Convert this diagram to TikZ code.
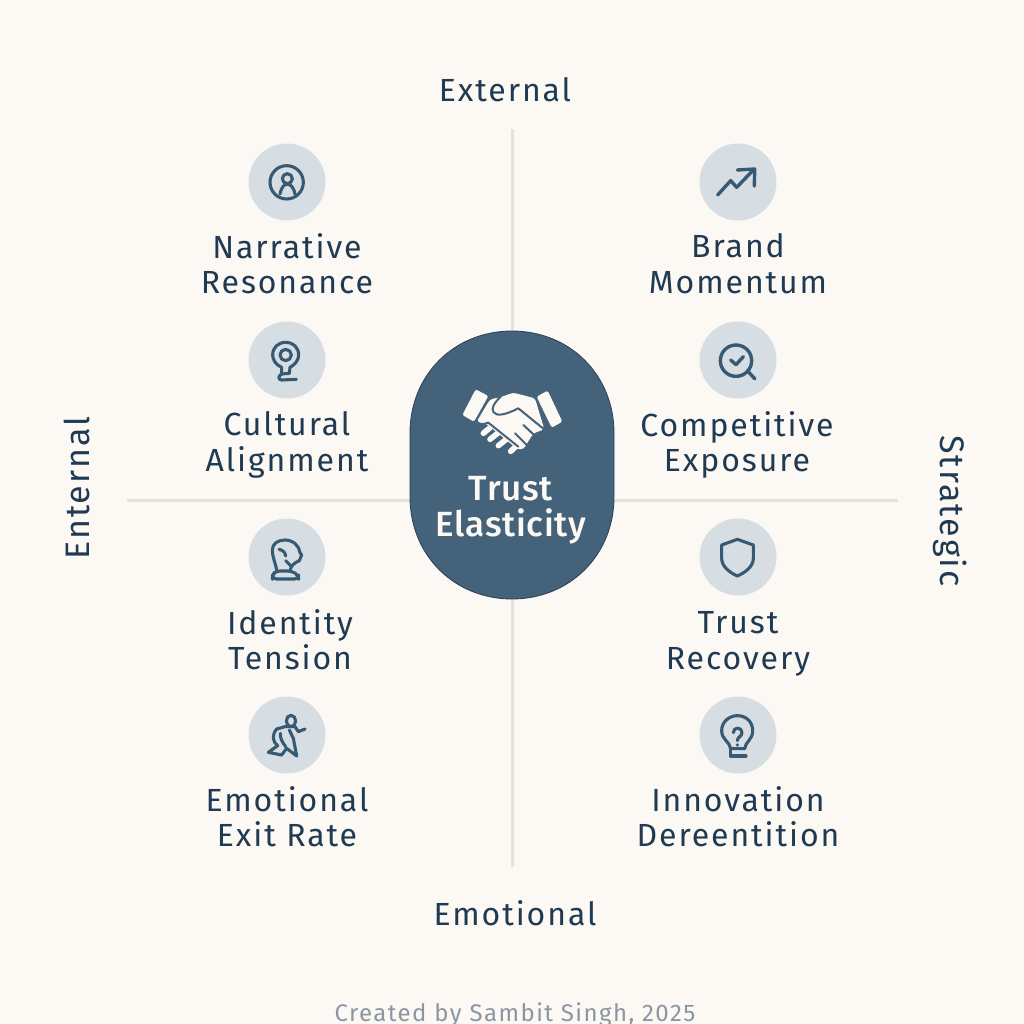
\documentclass[tikz,border=0pt]{standalone}
\usepackage{fontspec}
\setmainfont{Fira Sans}[LetterSpace=6]
\newfontfamily\pillfont{Fira Sans Medium}[LetterSpace=2]
\definecolor{paper}{HTML}{FCF9F4}
\definecolor{axisline}{HTML}{E5E2DA}
\definecolor{disc}{HTML}{D6DEE3}
\definecolor{ink}{HTML}{1F3A52}
\definecolor{iconink}{HTML}{375A74}
\definecolor{pill}{HTML}{44627A}
\definecolor{foot}{HTML}{8A97A3}
\newcommand{\twolines}[2]{#1\vphantom{lAy}\\#2\vphantom{lAy}}
\tikzset{
  axisrule/.style={draw=axisline,line width=3pt},
  iconbg/.style={circle,fill=disc,minimum size=77pt,inner sep=0pt},
  itemlabel/.style={text=ink,align=center,font=\fontsize{32}{35.5}\selectfont,inner sep=0pt},
  axislabel/.style={text=ink,font=\fontsize{32}{36}\selectfont,inner sep=0pt},
  sidelabel/.style={text=ink,font=\fontsize{34}{36}\selectfont,inner sep=0pt},
  glyph/.style={draw=iconink,line width=3.1pt,line cap=round,line join=round},
  zoomed/.style 2 args={shift={(#1pt,-#2pt)},x=0.33333pt,y=-0.33333pt},
  cut/.style={draw=pill,line width=2pt,line cap=round,line join=round},
  fingercap/.style={draw=paper,line width=5.6pt,line cap=round},
}
\begin{document}
\begin{tikzpicture}[x=1pt,y=-1pt]
\path[use as bounding box,fill=paper] (0,0) rectangle (1024,1024);
\clip (0,0) rectangle (1024,1024);
% axes
\coordinate (axN) at (512,129); \coordinate (axS) at (512,867);
\coordinate (axW) at (127,500); \coordinate (axE) at (898,500);
\coordinate (axC) at (512,500);
\draw[axisrule] (axN) -- (axC);
\draw[axisrule] (axS) -- (axC);
\draw[axisrule] (axW) -- (axC);
\draw[axisrule] (axE) -- (axC);
% central pill
\fill[pill] (512,331) .. controls (570,331) and (614,375) .. (614,433) -- (614,497)
  .. controls (614,555) and (570,599) .. (512,599)
  .. controls (454,599) and (410,555) .. (410,497) -- (410,433)
  .. controls (410,375) and (454,331) .. (512,331) -- cycle;
\draw[draw=ink!80!pill,line width=.8pt] (512,331) .. controls (570,331) and (614,375) .. (614,433) -- (614,497)
  .. controls (614,555) and (570,599) .. (512,599)
  .. controls (454,599) and (410,555) .. (410,497) -- (410,433)
  .. controls (410,375) and (454,331) .. (512,331) -- cycle;
% handshake
\begin{scope}[zoomed={455}{380}]
  \fill[paper,rounded corners=1.5pt] (62,28) -- (100,48) -- (57,125) -- (22,105) -- cycle;
  \fill[paper,rounded corners=1.5pt] (278,32) -- (322,125) -- (290,143) -- (245,50) -- cycle;
  \fill[paper,rounded corners=3pt] (105,58) -- (135,52) -- (175,38) -- (240,55) -- (268,148) -- (235,160)
     -- (205,208) -- (188,208) -- (95,132) -- (65,125) -- cycle;
  \draw[fingercap] (85,160) -- (105,143);
  \draw[fingercap] (105,178) -- (130,158);
  \draw[fingercap] (130,197) -- (155,177);
  \draw[fingercap] (167,214) -- (182,200);
  \draw[cut] (76,135) -- (100,128) -- (190,200);
  \draw[cut] (137,50) .. controls (118,68) and (108,85) .. (115,96)
     .. controls (125,110) and (150,105) .. (190,85) -- (270,150);
  \draw[cut] (205,135) -- (245,172);
  \draw[cut] (180,160) -- (218,198);
\end{scope}
\node[text=paper,align=center,inner sep=0pt,font=\pillfont\fontsize{35}{36}\selectfont] (core) at (511,509) {\twolines{Trust}{Elasticity}};
% discs
\node[iconbg] (d1) at (287,182) {};
\node[iconbg] (d2) at (287,360) {};
\node[iconbg] (d3) at (287,557) {};
\node[iconbg] (d4) at (287,735) {};
\node[iconbg] (d5) at (738,182) {};
\node[iconbg] (d6) at (738,360) {};
\node[iconbg] (d7) at (738,557) {};
\node[iconbg] (d8) at (738,735) {};
% person
\begin{scope}[zoomed={200}{130}]
  \draw[glyph] (260,157) circle (50);
  \draw[glyph] (262,146) circle (15);
  \draw[glyph] (240,192) .. controls (245,170) and (252,163) .. (262,163) .. controls (272,163) and (280,170) .. (285,192);
\end{scope}
% pin
\begin{scope}[zoomed={255}{330}]
  \draw[glyph] (92,75) circle (17);
  \draw[glyph] (80,112) .. controls (62,104) and (53,90) .. (53,75) .. controls (53,52) and (70,37) .. (92,37)
     .. controls (114,37) and (131,52) .. (131,75) .. controls (131,90) and (120,104) .. (105,112) -- (103,130);
  \draw[glyph] (80,112) -- (80,132) .. controls (70,136) and (68,150) .. (80,150) -- (124,148);
  \draw[glyph] (80,132) -- (103,130);
\end{scope}
% trend arrow
\begin{scope}[zoomed={640}{130}]
  \draw[glyph,line width=3.4pt] (233,195) -- (272,152) -- (290,172) -- (338,122);
  \draw[glyph,line width=3.4pt] (292,120) -- (344,117) -- (343,168);
\end{scope}
% magnifier
\begin{scope}[zoomed={640}{130}]
  \draw[glyph,line width=3.4pt] (288,692) circle (47);
  \draw[glyph,line width=3.4pt] (322,722) -- (345,747);
  \draw[glyph,line width=3.4pt] (272,690) -- (288,704) -- (310,680);
\end{scope}
% bust
\begin{scope}[zoomed={255}{530}]
  \draw[glyph] (65,120) .. controls (60,95) and (52,80) .. (52,60) .. controls (52,40) and (70,30) .. (90,30)
     .. controls (115,30) and (133,48) .. (135,68) -- (140,75) -- (133,92) .. controls (120,98) and (108,105) .. (105,122);
  \draw[glyph,rounded corners=4pt] (62,123) -- (110,123) -- (131,136) -- (131,147) -- (52,147) -- (52,136) -- cycle;
  \draw[glyph] (72,58) .. controls (82,60) and (90,65) .. (92,78);
  \draw[glyph] (92,92) -- (108,108);
\end{scope}
% runner
\begin{scope}[zoomed={255}{705}]
  \draw[glyph] (108,48) ellipse (14 and 17);
  \draw[glyph] (65,72) -- (90,65) -- (120,65) -- (130,80) -- (150,72);
  \draw[glyph] (65,72) .. controls (50,90) and (52,110) .. (68,122) -- (40,142) -- (80,150) -- (95,130) -- (125,153) -- (115,100) -- (103,75);
  \draw[glyph] (76,85) .. controls (75,100) and (82,112) .. (92,125);
\end{scope}
% shield
\begin{scope}[zoomed={680}{510}]
  \draw[glyph] (172,88) -- (220,105) -- (220,145) .. controls (220,170) and (195,188) .. (172,198)
     .. controls (150,188) and (125,170) .. (125,145) -- (125,105) -- cycle;
\end{scope}
% bulb
\begin{scope}[zoomed={680}{510}]
  \draw[glyph] (152,716) .. controls (150,695) and (125,690) .. (125,662) .. controls (125,635) and (148,617) .. (172,617)
     .. controls (198,617) and (218,635) .. (218,662) .. controls (218,690) and (196,695) .. (194,716) -- cycle;
  \draw[glyph] (152,716) -- (152,738) -- (198,738);
  \draw[glyph] (160,668) .. controls (160,650) and (186,650) .. (186,668) .. controls (186,680) and (172,680) .. (172,692);
  \fill[iconink] (172,705) circle (5);
\end{scope}
% labels
\node[itemlabel] (l1) at (287,267) {\twolines{Narrative}{Resonance}};
\node[itemlabel] (l2) at (287,445) {\twolines{Cultural}{Alignment}};
\node[itemlabel] (l3) at (290,643) {\twolines{Identity}{Tension}};
\node[itemlabel] (l4) at (287,820) {\twolines{Emotional}{Exit Rate}};
\node[itemlabel] (l5) at (738,267) {\twolines{Brand}{Momentum}};
\node[itemlabel] (l6) at (737,445) {\twolines{Competitive}{Exposure}};
\node[itemlabel] (l7) at (738,643) {\twolines{Trust}{Recovery}};
\node[itemlabel] (l8) at (738,820) {\twolines{Innovation}{Dereentition}};
\node[axislabel] (north) at (505,90) {External};
\node[axislabel] (south) at (515,913) {Emotional};
\node[sidelabel,rotate=90] (west) at (77,488) {Enternal};
\node[sidelabel,rotate=-90] (east) at (950,511) {Strategic};
\node[text=foot,inner sep=0pt,font=\fontsize{24}{28}\selectfont] (credit) at (515,1015) {Created by Sambit Singh, 2025};
\end{tikzpicture}
\end{document}
